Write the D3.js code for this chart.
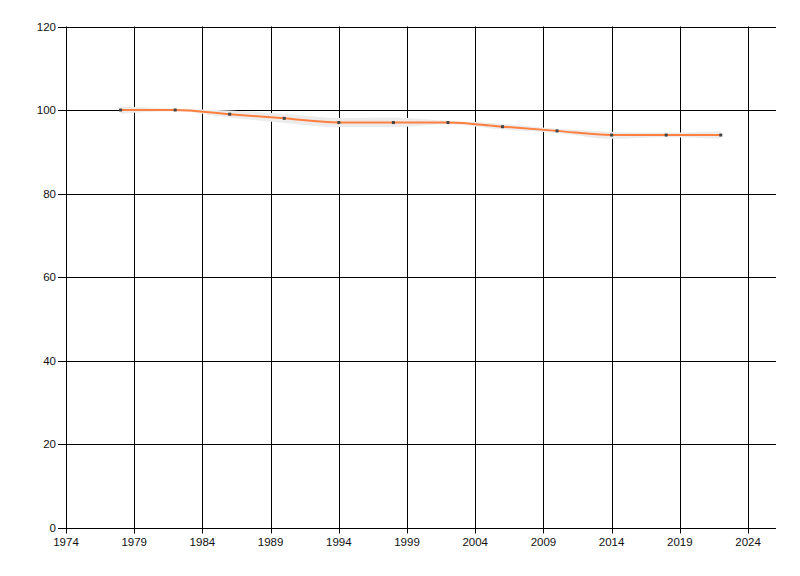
<!DOCTYPE html>
<html><head><meta charset="utf-8">
<script src="https://cdn.jsdelivr.net/npm/d3@7"></script>
<style>body{margin:0;background:#fff}svg{display:block}</style>
</head><body>
<svg id="c" width="800" height="576"></svg>
<script>
const years = [1978,1982,1986,1990,1994,1998,2002,2006,2010,2014,2018,2022];
const values = [100,100,99,98,97,97,97,96,95,94,94,94];
const upper = [100.9,100.3,99.9,99.1,98.1,98.2,97.4,96.7,95.5,94.8,94.6,94.9];
const lower = [99.1,99.7,98.2,96.9,95.9,95.9,96.6,95.3,94.5,93.1,93.5,93.1];
const xTicks = [1974,1979,1984,1989,1994,1999,2004,2009,2014,2019,2024];
const yTicks = [0,20,40,60,80,100,120];

const svg = d3.select("#c");
const L = 66, R = 776, T = 26.5, B = 527.5;
const x = d3.scaleLinear().domain([1974, 2026.05]).range([L, R]);
const y = d3.scaleLinear().domain([0, 120]).range([B, T]);
const font = "'Liberation Sans', Arial, sans-serif";

const g = svg.append("g");
g.selectAll(".hg").data(yTicks).join("line")
  .attr("x1", L - 8).attr("x2", R).attr("y1", d => Math.round(y(d)) + 0.5).attr("y2", d => Math.round(y(d)) + 0.5)
  .attr("stroke", "#000").attr("stroke-width", 1);
g.selectAll(".vg").data(xTicks).join("line")
  .attr("x1", d => Math.round(x(d)) + 0.5).attr("x2", d => Math.round(x(d)) + 0.5)
  .attr("y1", T).attr("y2", B + 6)
  .attr("stroke", "#000").attr("stroke-width", 1);

g.selectAll(".yl").data(yTicks).join("text")
  .attr("x", L - 10).attr("y", d => y(d)).attr("dy", "0.35em")
  .attr("text-anchor", "end").attr("font-family", font).attr("font-size", 11.5)
  .attr("fill", "#111").text(d => d);
g.selectAll(".xl").data(xTicks).join("text")
  .attr("x", d => x(d)).attr("y", B + 14).attr("dy", "0.35em")
  .attr("text-anchor", "middle").attr("font-family", font).attr("font-size", 11.5)
  .attr("fill", "#111").text(d => d);

const band = d3.area().x((d, i) => x(years[i])).y0((d, i) => y(lower[i])).y1((d, i) => y(upper[i])).curve(d3.curveMonotoneX);
svg.append("path").datum(values).attr("d", band).attr("fill", "#ececec");

const line = d3.line().x((d, i) => x(years[i])).y(d => y(d)).curve(d3.curveMonotoneX);
svg.append("path").datum(values).attr("d", line).attr("fill", "none")
  .attr("stroke", "#ff7f40").attr("stroke-width", 2);

svg.selectAll(".m").data(values).join("rect")
  .attr("x", (d, i) => x(years[i]) - 1.5).attr("y", d => y(d) - 1.5)
  .attr("width", 3).attr("height", 3).attr("fill", "#444");
</script>
</body></html>
